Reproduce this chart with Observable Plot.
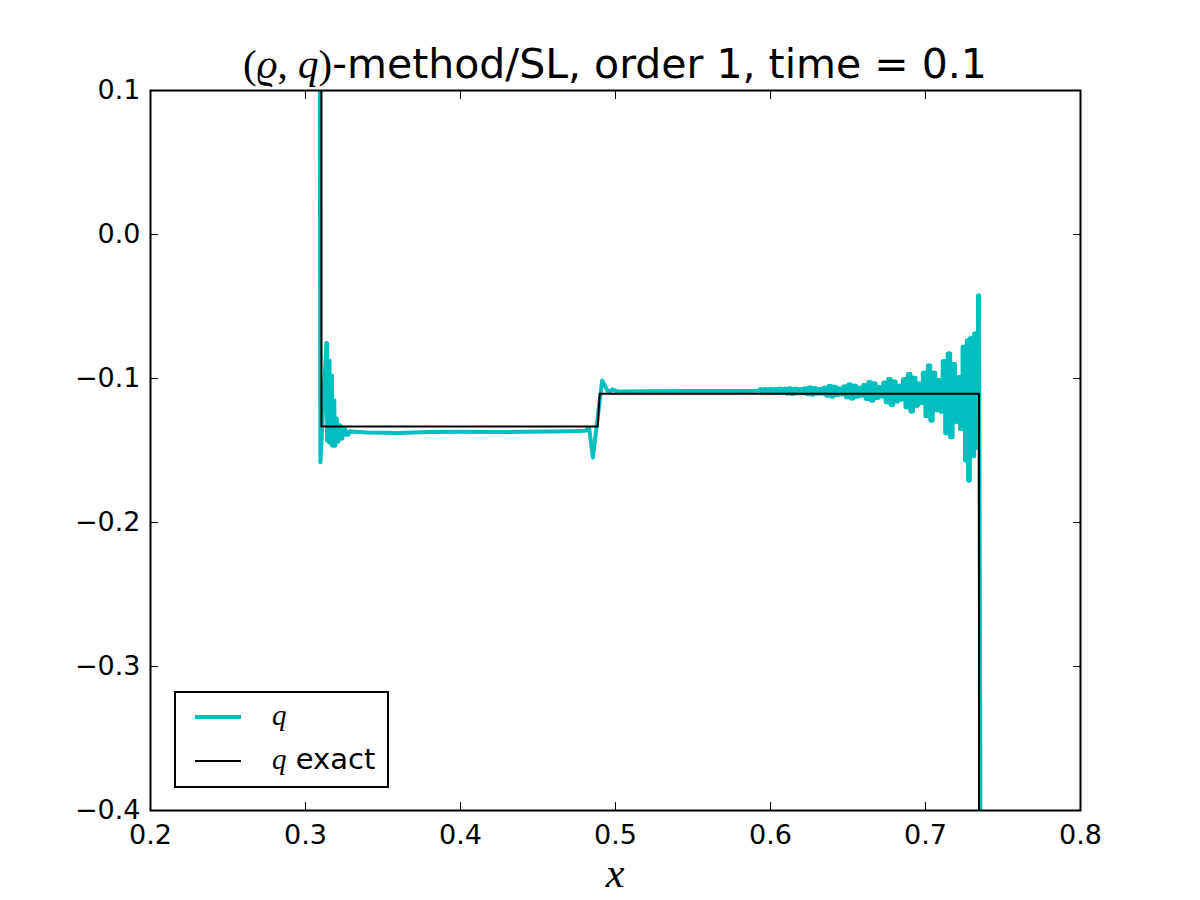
<!DOCTYPE html>
<html>
<head>
<meta charset="utf-8">
<script src="https://cdn.jsdelivr.net/npm/d3@7"></script>
<script src="https://cdn.jsdelivr.net/npm/@observablehq/plot@0.6"></script>
<style>
  body { margin: 0; background: #fff; }
  #wrap { position: relative; width: 1200px; height: 900px; background: #fff; font-family: "DejaVu Sans", sans-serif; color: #000; }
  #chart { position: absolute; left: 0; top: 0; }
  #title { position: absolute; left: 100px; width: 1030px; top: 44px; text-align: center; font-size: 41px; line-height: 1; white-space: nowrap; }
  .m { font-family: "Liberation Serif", serif; }
  .mi { font-family: "Liberation Serif", serif; font-style: italic; }
  #xlabel { position: absolute; left: 150px; width: 930px; top: 852px; text-align: center; font-size: 42px; line-height: 1; }
  #legend { position: absolute; left: 174px; top: 691px; width: 215px; height: 97px; box-sizing: border-box; border: 2px solid #000; background: #fff; }
  #legend .sw { position: absolute; left: 19px; width: 46px; }
  #legend .lab { position: absolute; left: 96px; font-size: 29px; line-height: 1; white-space: nowrap; }
</style>
</head>
<body>
<div id="wrap">
  <div id="chart"></div>
  <div id="title"><span class="m">(</span><span class="mi">ϱ</span><span class="m">, </span><span class="mi">q</span><span class="m">)</span>-method/SL, order 1, time = 0.1</div>
  <div id="xlabel"><span class="mi">x</span></div>
  <div id="legend">
    <div class="sw" style="top:22px;height:4px;background:#00BFBF"></div>
    <div class="lab" style="top:8px"><span class="mi">q</span></div>
    <div class="sw" style="top:67px;height:2px;background:#000"></div>
    <div class="lab" style="top:52px"><span class="mi">q</span> exact</div>
  </div>
</div>
<script>
// numerical solution q
const qX = [
  0.2000, 0.3090, 0.3096, 0.3135, 0.3143, 0.3151, 0.3159, 0.3167, 0.3174, 0.3182,
  0.3190, 0.3197, 0.3207, 0.3219, 0.3232, 0.3245, 0.3265, 0.3290, 0.3400, 0.3600,
  0.3800, 0.4000, 0.4200, 0.4400, 0.4600, 0.4750, 0.4807, 0.4830, 0.4854, 0.4914,
  0.4955, 0.4979, 0.5010, 0.5200, 0.5500, 0.5800, 0.5920,
  0.5935, 0.5951, 0.5967, 0.5983, 0.5999, 0.6015, 0.6031, 0.6047, 0.6063, 0.6079,
  0.6095, 0.6111, 0.6127, 0.6143, 0.6159, 0.6175, 0.6191, 0.6207, 0.6223, 0.6239,
  0.6255, 0.6271, 0.6287, 0.6303, 0.6319, 0.6335, 0.6351, 0.6367, 0.6383, 0.6399,
  0.6415, 0.6431, 0.6447, 0.6463, 0.6479, 0.6495, 0.6511, 0.6527, 0.6543, 0.6559,
  0.6575, 0.6591, 0.6607, 0.6623, 0.6639, 0.6655, 0.6671, 0.6687, 0.6703, 0.6719,
  0.6735, 0.6751, 0.6767, 0.6783, 0.6799, 0.6815, 0.6831, 0.6847, 0.6863, 0.6879,
  0.6895, 0.6911, 0.6927, 0.6943, 0.6959, 0.6975, 0.6991, 0.7007, 0.7023, 0.7039,
  0.7055, 0.7071, 0.7087, 0.7103, 0.7119, 0.7135, 0.7151, 0.7167, 0.7183, 0.7199,
  0.7215, 0.7231, 0.7247, 0.7263, 0.7271, 0.7279, 0.7293, 0.7307, 0.7321, 0.7333,
  0.7345, 0.7360, 0.8000
];
const qY = [
  0.3000, 0.3000, -0.1581, -0.0755, -0.1431, -0.0875, -0.1444, -0.0979, -0.1465, -0.1153,
  -0.1465, -0.1278, -0.1438, -0.1326, -0.1417, -0.1347, -0.1389, -0.1368, -0.1375, -0.1378,
  -0.1372, -0.1370, -0.1372, -0.1370, -0.1368, -0.1365, -0.1362, -0.1345, -0.1549, -0.1014,
  -0.1097, -0.1076, -0.1090, -0.1088, -0.1087, -0.1086, -0.1085,
  -0.1074, -0.1096, -0.1074, -0.1097, -0.1073, -0.1097, -0.1073, -0.1098, -0.1072, -0.1100,
  -0.1072, -0.1104, -0.1069, -0.1107, -0.1071, -0.1102, -0.1075, -0.1100, -0.1070, -0.1108,
  -0.1063, -0.1111, -0.1067, -0.1104, -0.1074, -0.1105, -0.1064, -0.1118, -0.1052, -0.1125,
  -0.1058, -0.1114, -0.1070, -0.1110, -0.1056, -0.1130, -0.1042, -0.1139, -0.1050, -0.1125,
  -0.1065, -0.1118, -0.1045, -0.1142, -0.1024, -0.1153, -0.1035, -0.1135, -0.1060, -0.1125,
  -0.1030, -0.1165, -0.1003, -0.1184, -0.1020, -0.1160, -0.1050, -0.1145, -0.1005, -0.1200,
  -0.0969, -0.1229, -0.0995, -0.1190, -0.1035, -0.1170, -0.0960, -0.1260, -0.0910, -0.1292,
  -0.0960, -0.1220, -0.1010, -0.1230, -0.0880, -0.1380, -0.0826, -0.1408, -0.0900, -0.1300,
  -0.0990, -0.1350, -0.0780, -0.1569, -0.0736, -0.1708, -0.0720, -0.1540, -0.0688, -0.1480,
  -0.0424, -0.6000, -0.6000
];
// x ranges where q oscillates faster than the pixel grid (drawn as a filled comb)
const oscRanges = [[0.3135, 0.3290], [0.5935, 0.7345]];
// exact solution
const exactX = [0.2000, 0.3103, 0.3103, 0.4885, 0.4898, 0.7345, 0.7345, 0.8000];
const exactY = [0.3000, 0.3000, -0.1333, -0.1333, -0.1106, -0.1106, -0.6000, -0.6000];
// axes
const xTicks = [0.2, 0.3, 0.4, 0.5, 0.6, 0.7, 0.8];
const xTickLabels = ["0.2", "0.3", "0.4", "0.5", "0.6", "0.7", "0.8"];
const yTicks = [0.1, 0.0, -0.1, -0.2, -0.3, -0.4];
const yTickLabels = ["0.1", "0.0", "\u22120.1", "\u22120.2", "\u22120.3", "\u22120.4"];
const xDomain = [0.2, 0.8];
const yDomain = [-0.4, 0.1];

const qData = qX.map((x, i) => ({x, y: qY[i]}));
const oscData = oscRanges.map(([a, b]) => qData.filter(d => d.x >= a && d.x <= b));
const exactData = exactX.map((x, i) => ({x, y: exactY[i]}));
const fx = d => xTickLabels[xTicks.indexOf(d)];
const fy = d => yTickLabels[yTicks.indexOf(d)];
const none = () => "";
const cyan = "#00BFBF";

const chart = Plot.plot({
  width: 1200,
  height: 900,
  marginLeft: 150,
  marginRight: 120,
  marginTop: 90,
  marginBottom: 90,
  style: {fontFamily: "DejaVu Sans", fontSize: "27px", color: "#000", background: "#fff", overflow: "visible"},
  x: {domain: xDomain},
  y: {domain: yDomain},
  marks: [
    Plot.line(qData, {x: "x", y: "y", stroke: cyan, strokeWidth: 4, clip: true, strokeMiterlimit: 2}),
    ...oscData.map(seg => Plot.line(seg, {x: "x", y: "y", stroke: cyan, strokeWidth: 4, curve: "step", clip: true})),
    Plot.line(exactData, {x: "x", y: "y", stroke: "#000", strokeWidth: 2, clip: true}),
    Plot.axisX(xTicks, {anchor: "bottom", tickSize: 0, tickPadding: 14, tickFormat: fx, label: null}),
    Plot.axisX(xTicks, {anchor: "bottom", tickSize: -8, tickFormat: none, label: null}),
    Plot.axisX(xTicks, {anchor: "top", tickSize: -8, tickFormat: none, label: null}),
    Plot.axisY(yTicks, {anchor: "left", tickSize: 0, tickPadding: 10, tickFormat: fy, label: null}),
    Plot.axisY(yTicks, {anchor: "left", tickSize: -8, tickFormat: none, label: null}),
    Plot.axisY(yTicks, {anchor: "right", tickSize: -8, tickFormat: none, label: null}),
    Plot.frame({stroke: "#000", strokeWidth: 2})
  ]
});
document.getElementById("chart").appendChild(chart);
</script>
</body>
</html>
